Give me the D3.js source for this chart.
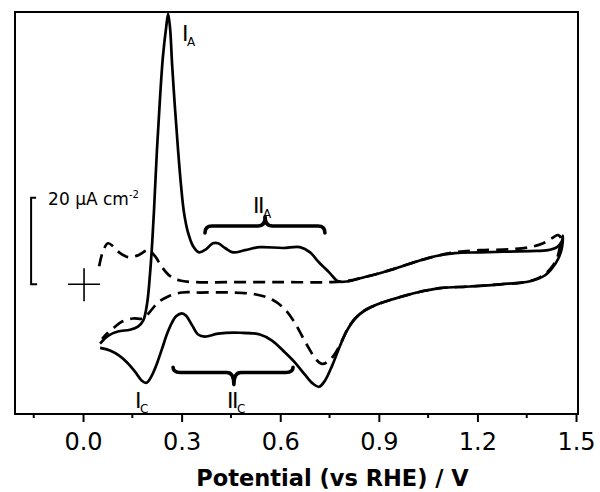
<!DOCTYPE html>
<html>
<head>
<meta charset="utf-8">
<script src="https://cdn.jsdelivr.net/npm/d3@7"></script>
<style>
  body { margin: 0; background: #fff; }
  svg { display: block; font-family: "DejaVu Sans", sans-serif; }
</style>
</head>
<body>
<svg width="600" height="492"></svg>
<script>
// CV data: potential (V vs RHE), current density (uA cm-2)
// solid curve: anodic sweep then cathodic sweep
let solidPotential = [
  0.052, 0.076, 0.106, 0.143, 0.167, 0.183, 0.195, 0.204, 0.210, 0.216,
  0.225, 0.234, 0.243, 0.253, 0.259, 0.265, 0.271, 0.280, 0.289, 0.298,
  0.307, 0.319, 0.335, 0.353, 0.374, 0.395, 0.411, 0.432, 0.456, 0.493,
  0.538, 0.608, 0.660, 0.691, 0.715, 0.751, 0.776, 0.806, 0.843, 0.913,
  0.964, 1.016, 1.071, 1.132, 1.208, 1.360, 1.415, 1.442, 1.457, 1.460,
  1.457, 1.445, 1.430, 1.406, 1.360, 1.269, 1.177, 1.086, 1.016, 0.949,
  0.904, 0.858, 0.828, 0.803, 0.782, 0.758, 0.736, 0.718, 0.700, 0.675,
  0.645, 0.615, 0.575, 0.538, 0.478, 0.411, 0.371, 0.350, 0.332, 0.313,
  0.301, 0.283, 0.271, 0.256, 0.240, 0.225, 0.210, 0.198, 0.192, 0.179,
  0.158, 0.134, 0.110, 0.082, 0.052
];
let solidCurrent = [
  -13.7, -11.9, -10.9, -10.5, -9.8, -8.4, -4.4, 2.6, 9.1, 17.2,
  31.2, 42.8, 52.6, 59.5, 62.6, 59.1, 50.9, 40.5, 31.2, 23.0,
  16.7, 12.1, 8.8, 7.4, 8.1, 9.5, 9.5, 8.4, 7.4, 7.9,
  8.6, 8.4, 8.6, 7.4, 5.3, 2.6, 0.7, 0.7, 1.4, 2.8,
  4.0, 5.3, 6.5, 7.2, 7.4, 7.7, 7.9, 8.6, 10.0, 11.2,
  8.4, 5.8, 4.0, 2.1, 0.7, 0.0, -0.5, -0.9, -1.9, -3.3,
  -4.4, -6.0, -7.9, -10.7, -14.2, -18.8, -22.3, -23.7, -23.0, -20.9,
  -18.1, -15.8, -13.0, -11.6, -11.2, -11.4, -12.1, -11.6, -9.5, -7.2,
  -6.7, -7.4, -8.8, -11.4, -15.0, -18.3, -21.0, -22.5, -22.8, -22.3,
  -20.2, -18.1, -16.5, -15.3, -14.7
];

// dashed curve
let dashedPotential = [
  0.049, 0.061, 0.076, 0.094, 0.113, 0.137, 0.167, 0.198, 0.219, 0.240,
  0.265, 0.295, 0.341, 0.447, 0.599, 0.751, 0.797, 0.843, 0.913, 0.964,
  1.016, 1.071, 1.132, 1.208, 1.299, 1.360, 1.400, 1.427, 1.445, 1.454,
  1.451, 1.442, 1.421, 1.390, 1.345, 1.269, 1.177, 1.086, 1.016, 0.949,
  0.904, 0.858, 0.828, 0.806, 0.788, 0.767, 0.745, 0.727, 0.709, 0.688,
  0.666, 0.642, 0.612, 0.575, 0.523, 0.447, 0.356, 0.301, 0.259, 0.228,
  0.204, 0.183, 0.152, 0.119, 0.091, 0.070, 0.058
];
let dashedCurrent = [
  4.2, 7.7, 9.5, 8.6, 7.2, 6.3, 6.7, 7.9, 6.5, 4.0,
  1.9, 0.9, 0.5, 0.5, 0.5, 0.5, 0.7, 1.4, 2.8, 4.0,
  5.3, 6.5, 7.4, 7.9, 8.1, 8.6, 9.5, 10.7, 11.4, 10.7,
  8.8, 6.0, 3.5, 1.6, 0.5, 0.0, -0.5, -0.9, -1.9, -3.3,
  -4.4, -6.0, -7.9, -10.2, -13.0, -16.0, -17.9, -18.4, -17.4, -14.9,
  -11.9, -8.6, -5.6, -3.5, -2.3, -1.9, -1.9, -1.9, -2.8, -4.2,
  -6.3, -7.9, -7.9, -8.6, -10.2, -11.6, -12.6
];

let majorTicks = [0.0, 0.3, 0.6, 0.9, 1.2, 1.5];
let minorTicks = [-0.15, 0.15, 0.45, 0.75, 1.05, 1.35];

// peak labels
let labelMain = ["I", "II", "I", "II"];
let labelSub = ["A", "A", "C", "C"];
let labelPotential = [0.301, 0.517, 0.158, 0.438];
let labelCurrent = [56.3, 16.5, -28.6, -28.6];

// braces: from, to, middle potential; flat, tip and end current
let braces = [
  {from: 0.371, to: 0.736, mid: 0.554, flat: 13.5, tip: 15.6, end: 11.9},
  {from: 0.274, to: 0.639, mid: 0.459, flat: -20.4, tip: -23.2, end: -19.2}
];

let scaleBarValue = 20;
let scaleBarPotential = -0.158;

let svg = d3.select("svg");

let x = d3.scaleLinear().domain([-0.207, 1.506]).range([15, 578]);
let y = d3.scaleLinear().domain([-30, 63]).range([414, 12]);

svg.append("rect")
  .attr("width", 600).attr("height", 492)
  .attr("fill", "#fff");

let line = d3.line()
  .x(d => x(d[0]))
  .y(d => y(d[1]))
  .curve(d3.curveCatmullRom.alpha(0.5));

svg.append("path")
  .datum(dashedPotential.map((p, i) => [p, dashedCurrent[i]]))
  .attr("d", line)
  .attr("fill", "none")
  .attr("stroke", "#000")
  .attr("stroke-width", 2.7)
  .attr("stroke-dasharray", "12,7");

svg.append("path")
  .datum(solidPotential.map((p, i) => [p, solidCurrent[i]]))
  .attr("d", line)
  .attr("fill", "none")
  .attr("stroke", "#000")
  .attr("stroke-width", 2.7)
  .attr("stroke-linejoin", "round");

// frame
svg.append("rect")
  .attr("x", x.range()[0]).attr("y", y.range()[1])
  .attr("width", x.range()[1] - x.range()[0])
  .attr("height", y.range()[0] - y.range()[1])
  .attr("fill", "none")
  .attr("stroke", "#000")
  .attr("stroke-width", 2);

// x axis
let axis = svg.append("g")
  .attr("transform", `translate(0,${y.range()[0]})`)
  .call(d3.axisBottom(x).tickValues(majorTicks).tickSize(8).tickFormat(d3.format(".1f")));

axis.select(".domain").remove();
axis.selectAll(".tick line").attr("stroke-width", 2);
axis.selectAll(".tick text")
  .attr("y", 36).attr("dy", 0)
  .attr("font-family", "DejaVu Sans")
  .attr("font-size", 24)
  .attr("fill", "#000");

svg.append("g")
  .attr("transform", `translate(0,${y.range()[0]})`)
  .selectAll("line")
  .data(minorTicks)
  .enter().append("line")
  .attr("x1", d => x(d)).attr("x2", d => x(d))
  .attr("y1", 0).attr("y2", 4)
  .attr("stroke", "#000")
  .attr("stroke-width", 2);

svg.append("text")
  .attr("x", (x(0) + x(1.5)) / 2 + 3)
  .attr("y", 486)
  .attr("text-anchor", "middle")
  .attr("font-size", 22.5)
  .attr("font-weight", "bold")
  .text("Potential (vs RHE) / V");

// origin cross
svg.append("path")
  .attr("d", `M${x(0) - 15},${y(0)}H${x(0) + 17}M${x(0) + 1},${y(0) - 16}V${y(0) + 17}`)
  .attr("stroke", "#000")
  .attr("stroke-width", 1.6);

// scale bar
let sb = x(scaleBarPotential);
svg.append("path")
  .attr("d", `M${sb + 5},${y(scaleBarValue)}H${sb}V${y(0)}H${sb + 6}`)
  .attr("fill", "none")
  .attr("stroke", "#000")
  .attr("stroke-width", 2);

let sbText = svg.append("text")
  .attr("x", sb + 17)
  .attr("y", y(scaleBarValue) + 7)
  .attr("font-size", 17);
sbText.append("tspan").text("20 \u00b5A cm");
sbText.append("tspan").attr("dy", -7).attr("font-size", 10).text("-2");

// braces
function bracePath(b) {
  let x1 = x(b.from), x2 = x(b.to), xm = x(b.mid);
  let yf = y(b.flat), yt = y(b.tip), ye = y(b.end);
  return `M${x1},${ye}Q${x1},${yf} ${x1 + 7},${yf}L${xm - 7},${yf}Q${xm},${yf} ${xm},${yt}` +
    `Q${xm},${yf} ${xm + 7},${yf}L${x2 - 7},${yf}Q${x2},${yf} ${x2},${ye}`;
}

svg.selectAll(".brace")
  .data(braces)
  .enter().append("path")
  .attr("class", "brace")
  .attr("d", bracePath)
  .attr("fill", "none")
  .attr("stroke", "#000")
  .attr("stroke-width", 3.6)
  .attr("stroke-linecap", "round")
  .attr("stroke-linejoin", "round");

// peak labels
labelMain.forEach((m, i) => {
  let t = svg.append("text")
    .attr("x", x(labelPotential[i]))
    .attr("y", y(labelCurrent[i]))
    .attr("font-size", 22);
  t.append("tspan").attr("letter-spacing", -1.5).text(m);
  t.append("tspan").attr("dy", 5).attr("font-size", 12).text(labelSub[i]);
});
</script>
</body>
</html>
